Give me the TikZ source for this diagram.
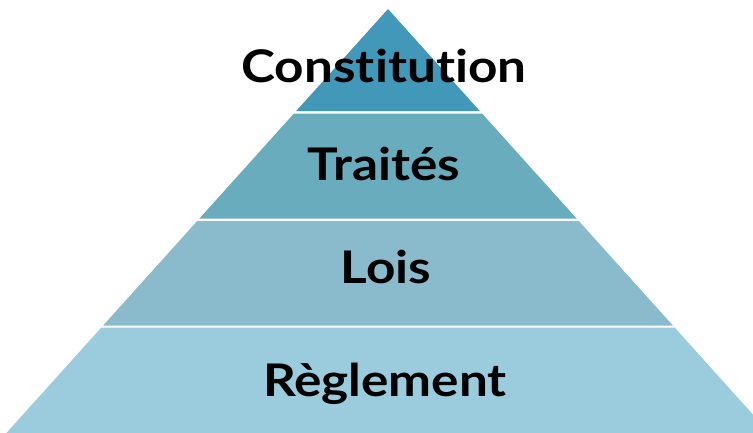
\documentclass[tikz,border=0pt]{standalone}
\usepackage{fontspec}
\setmainfont{Lato}[Ligatures={NoCommon,TeX}]
\definecolor{cC}{RGB}{66,152,184}
\definecolor{cT}{RGB}{104,172,190}
\definecolor{cL}{RGB}{137,187,204}
\definecolor{cR}{RGB}{154,204,221}
\newcommand{\widetxt}[1]{\scalebox{1.14}[1]{#1}}
\tikzset{
  lbl/.style={anchor=base, font=\fontsize{45}{52}\selectfont\bfseries, text=black, inner sep=0pt}
}
\begin{document}
\begin{tikzpicture}[x=1pt,y=-1pt]
\useasboundingbox (0,0) rectangle (753,432);
\clip (0,0) rectangle (753,432);
\fill[cC] (388,9) -- (479.8,111) -- (296.2,111) -- cycle;
\fill[cT] (293.95,113.5) -- (482.05,113.5) -- (576.55,218.5) -- (199.45,218.5) -- cycle;
\fill[cL] (197.2,221) -- (578.8,221) -- (672.85,325.5) -- (103.15,325.5) -- cycle;
\fill[cR] (101.35,327.5) -- (674.65,327.5) -- (775.9,440) -- (0.1,440) -- cycle;
\node[lbl] (constitution) at (384,82) {\widetxt{Constitution}};
\node[lbl] (traites) at (384,180) {\widetxt{Traités}};
\node[lbl] (lois) at (386,283) {\widetxt{Lois}};
\node[lbl] (reglement) at (385,396) {\widetxt{Règlement}};
\end{tikzpicture}
\end{document}
